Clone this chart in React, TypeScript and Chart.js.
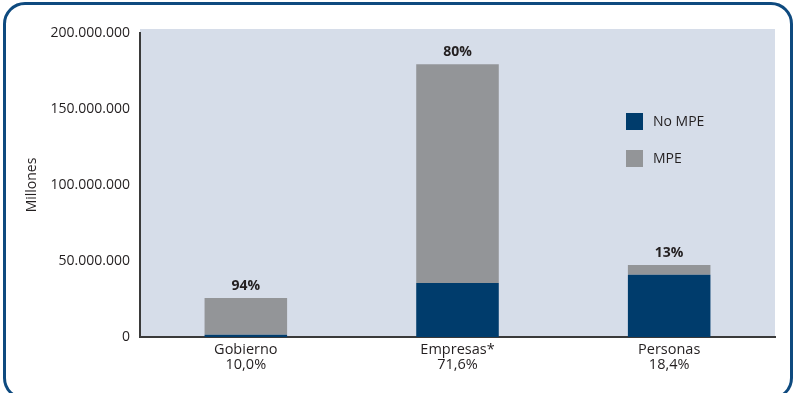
import React, { useEffect, useRef } from "react";
import { Chart, registerables } from "chart.js";

Chart.register(...registerables);

const categories = ["Gobierno", "Empresas*", "Personas"];
const categoryShares = ["10,0%", "71,6%", "18,4%"];
const noMpeValues = [1500000, 35500000, 41000000];
const mpeValues = [24200000, 144000000, 6300000];
const mpeShareLabels = ["94%", "80%", "13%"];
const yTicks = [0, 50000000, 100000000, 150000000, 200000000];

const FONT = "'Open Sans', 'Liberation Sans', sans-serif";
const TEXT = "#231f20";

function fmt(v: number): string {
  return String(v).replace(/\B(?=(\d{3})+(?!\d))/g, ".");
}

export default function App() {
  const ref = useRef<HTMLCanvasElement | null>(null);

  useEffect(() => {
    const canvas = ref.current;
    if (!canvas) return;

    const bgPlugin = {
      id: "plotBg",
      beforeDraw(chart: any) {
        const { ctx, chartArea } = chart;
        ctx.save();
        ctx.fillStyle = "#d6dde9";
        ctx.fillRect(chartArea.left, chartArea.top - 4, chartArea.right - chartArea.left, chartArea.bottom - chartArea.top + 4);
        ctx.restore();
      },
    };

    const overlayPlugin = {
      id: "overlay",
      afterDraw(chart: any) {
        const { ctx, chartArea } = chart;
        ctx.save();
        ctx.fillStyle = TEXT;
        ctx.font = `14px ${FONT}`;
        ctx.textAlign = "center";
        ctx.textBaseline = "middle";
        ctx.translate(32, (chartArea.top + chartArea.bottom) / 2);
        ctx.rotate(-Math.PI / 2);
        ctx.fillText("Millones", 0, 0);
        ctx.restore();

        ctx.save();
        const meta = chart.getDatasetMeta(1);
        ctx.font = `bold 14px ${FONT}`;
        ctx.fillStyle = TEXT;
        ctx.textAlign = "center";
        ctx.textBaseline = "middle";
        meta.data.forEach((bar: any, i: number) => {
          ctx.fillText(mpeShareLabels[i], bar.x, bar.y - 12);
        });
        ctx.restore();

        ctx.save();
        const items = [
          { label: "No MPE", color: chart.data.datasets[0].backgroundColor },
          { label: "MPE", color: chart.data.datasets[1].backgroundColor },
        ];
        ctx.font = `14px ${FONT}`;
        ctx.textAlign = "left";
        ctx.textBaseline = "middle";
        items.forEach((it, i) => {
          const y = 113 + i * 37;
          ctx.fillStyle = it.color;
          ctx.fillRect(626, y, 17, 17);
          ctx.fillStyle = TEXT;
          ctx.fillText(it.label, 653, y + 9);
        });
        ctx.restore();
      },
    };

    const chart = new Chart(canvas, {
      type: "bar",
      data: {
        labels: categories.map((c, i) => [c, categoryShares[i]]),
        datasets: [
          {
            label: "No MPE",
            data: noMpeValues,
            backgroundColor: "#003c6c",
            barPercentage: 0.39,
            categoryPercentage: 1,
          },
          {
            label: "MPE",
            data: mpeValues,
            backgroundColor: "#939598",
            barPercentage: 0.39,
            categoryPercentage: 1,
          },
        ],
      },
      options: {
        responsive: false,
        animation: false,
        layout: { padding: { top: 33, right: 20, left: 0, bottom: 0 } },
        plugins: { legend: { display: false }, tooltip: { enabled: false } },
        scales: {
          x: {
            stacked: true,
            grid: { display: false, drawTicks: false },
            border: { display: true, color: "#3a3a3a", width: 2 },
            ticks: {
              color: TEXT,
              font: { family: FONT, size: 14.5, lineHeight: 1.05 },
              padding: 5,
              maxRotation: 0,
            },
            afterFit(scale: any) {
              scale.height = 56;
            },
          },
          y: {
            stacked: true,
            min: 0,
            max: 200000000,
            afterBuildTicks(scale: any) {
              scale.ticks = yTicks.map((v) => ({ value: v }));
            },
            grid: { display: false, drawTicks: false },
            border: { display: true, color: "#3a3a3a", width: 2 },
            ticks: {
              color: TEXT,
              font: { family: FONT, size: 14 },
              padding: 10,
              callback: (v: any) => fmt(Number(v)),
            },
            afterFit(scale: any) {
              scale.width = 140;
            },
          },
        },
      },
      plugins: [bgPlugin, overlayPlugin],
    });

    return () => chart.destroy();
  }, []);

  return (
    <div style={{ position: "fixed", left: 0, top: 0, width: 795, height: 393, background: "#fff", overflow: "hidden" }}>
      <canvas ref={ref} width={795} height={393} style={{ display: "block" }} />
      <div
        style={{
          position: "absolute",
          left: 3,
          top: 2,
          width: 790,
          height: 398,
          boxSizing: "border-box",
          border: "3px solid #0e4a7f",
          borderRadius: 22,
          pointerEvents: "none",
        }}
      />
    </div>
  );
}
